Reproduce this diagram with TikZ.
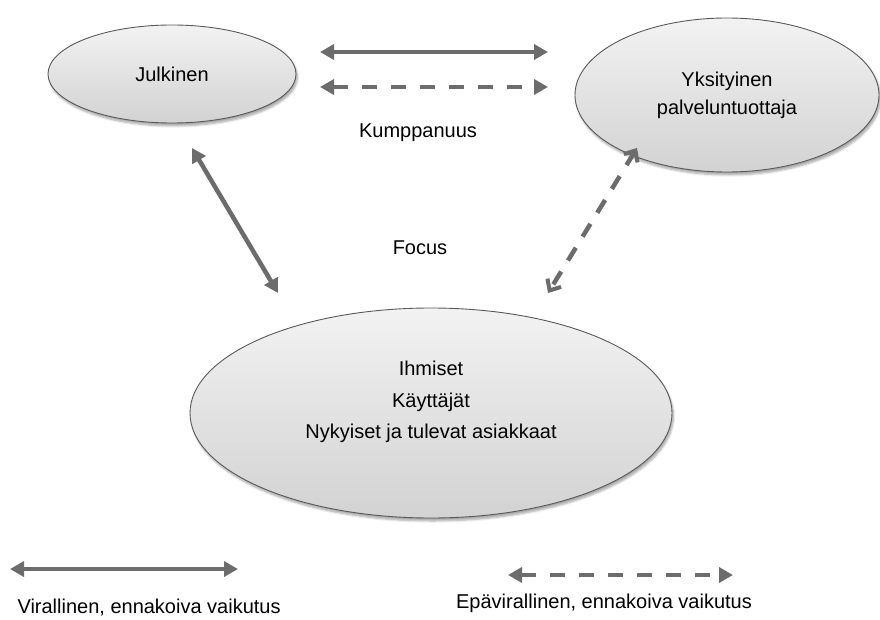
\documentclass[tikz,border=0pt]{standalone}
\usepackage{fontspec}
\setmainfont{Liberation Sans}
\usetikzlibrary{arrows.meta,shapes.geometric,shadows.blur}
\definecolor{linegray}{HTML}{6C6C6C}
\definecolor{rimgray}{HTML}{5A5A5A}
\begin{document}
\begin{tikzpicture}[x=1pt,y=-1pt,
  bubble/.style={ellipse, draw=rimgray, line width=0.9pt,
    top color=gray!10, bottom color=gray!35,
    blur shadow={shadow xshift=1.5pt, shadow yshift=-3pt, shadow blur steps=6, shadow opacity=35},
    inner sep=0pt},
  lbl/.style={font=\fontsize{20}{24}\selectfont, align=center},
  formal/.style={draw=linegray, line width=4.5pt,
    {Triangle[length=14pt,width=15pt]}-{Triangle[length=14pt,width=15pt]}},
  informal/.style={draw=linegray, line width=4.5pt, dash pattern=on 15pt off 14pt,
    {Triangle[length=14pt,width=15pt]}-{Triangle[length=14pt,width=15pt]}},
  informalbarb/.style={draw=linegray, line width=4.5pt, dash pattern=on 15pt off 13pt,
    {Straight Barb[length=9pt,width=16pt,line width=4pt]}-{Straight Barb[length=9pt,width=16pt,line width=4pt]}}
]
\useasboundingbox (0,0) rectangle (880,620);

% the three actors
\node[bubble, minimum width=248pt, minimum height=98pt] (julk) at (172,74) {};
\node[lbl] at (julk.center) {Julkinen};
\node[bubble, minimum width=304pt, minimum height=154pt] (yks) at (727,95) {};
\node[lbl, font=\fontsize{20}{28}\selectfont] at (727,95) {Yksityinen\\palveluntuottaja};
\node[bubble, minimum width=482pt, minimum height=210pt] (ihm) at (431,413) {};
\node[lbl, font=\fontsize{20}{31.5}\selectfont] at (431,402) {Ihmiset\\Käyttäjät\\Nykyiset ja tulevat asiakkaat};

% labels
\node[lbl] (kump) at (418,133) {Kumppanuus};
\node[lbl] (focus) at (420,248) {Focus};

% connector end points
\coordinate (pA) at (320,52);
\coordinate (pB) at (548,52);
\coordinate (pC) at (320,87);
\coordinate (pD) at (548,87);
\coordinate (pE) at (192,148);
\coordinate (pF) at (278,293);
\coordinate (pG) at (637,148);
\coordinate (pH) at (548,293);

\draw[formal] (pA) -- (pB);
\draw[informal] (pC) -- (pD);
\draw[formal] (pE) -- (pF);
\draw[informalbarb] (pG) -- (pH);

% legend
\coordinate (lA) at (10,569);
\coordinate (lB) at (238,569);
\coordinate (lC) at (508,575);
\coordinate (lD) at (733,575);
\draw[formal] (lA) -- (lB);
\draw[informal] (lC) -- (lD);
\node[lbl, anchor=west] (lform) at (14,608) {Virallinen, ennakoiva vaikutus};
\node[lbl] (linf) at (604,603) {Epävirallinen, ennakoiva vaikutus};
\end{tikzpicture}
\end{document}
